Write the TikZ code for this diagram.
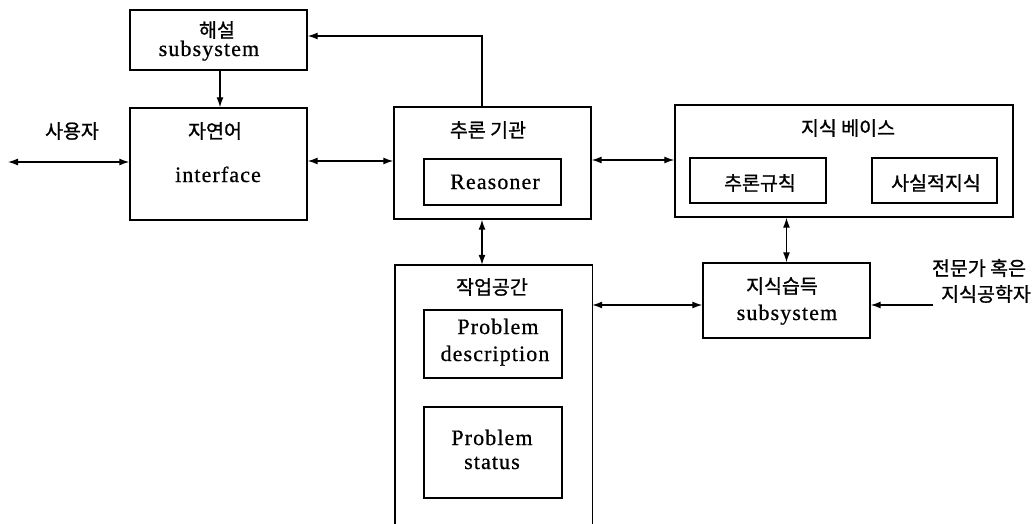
\documentclass[tikz,border=0pt]{standalone}
\usepackage{fontspec}
\setmainfont{Liberation Serif}[LetterSpace=5, FakeBold=0.6]
\newfontfamily\kr{Noto Sans CJK KR}[FakeBold=1]
\usetikzlibrary{arrows.meta,fit}
\tikzset{
  x=1pt, y=-1pt,
  box/.style={draw, line width=1.4pt, inner sep=0pt},
  kt/.style={font=\kr\fontsize{19.5}{22}\selectfont, inner sep=0pt, anchor=center},
  lt/.style={font=\fontsize{22}{24}\selectfont, inner sep=0pt, anchor=base},
  conn/.style={line width=1.3pt},
  tip/.style={-{Latex[length=10pt,width=7pt]}},
  dtip/.style={{Latex[length=10pt,width=7pt]}-{Latex[length=10pt,width=7pt]}},
}
\begin{document}
\begin{tikzpicture}
\useasboundingbox (0,0) rectangle (1035,524);
% boxes
\node[box, fit={(130,10) (307,70)}] (hs) {};
\node[box, fit={(130,108) (307,220)}] (ui) {};
\node[box, fit={(394,107) (591,219)}] (ie) {};
\node[box, fit={(424,159) (561,205)}] (rs) {};
\node[box, fit={(675,105) (1013,217)}] (kb) {};
\node[box, fit={(690,158) (826,203)}] (rule) {};
\node[box, fit={(872,158) (997,203)}] (fact) {};
\node[inner sep=0pt, fit={(395,265) (592,530)}] (ws) {};
\draw[line width=1.4pt] (ws.south west) -- (ws.north west) -- (ws.north east) -- (ws.south east);
\node[box, fit={(424,310) (562,378)}] (pd) {};
\node[box, fit={(424,407) (562,498)}] (pst) {};
\node[box, fit={(703,263) (870,338)}] (ka) {};
% texts
\node[kt] (t-hs) at (217,30) {해설};
\node[lt] (t-hs2) at (209,56) {subsystem};
\node[kt] (t-ui) at (215,131) {자연어};
\node[lt] (t-ui2) at (218,182) {interface};
\node[kt] (t-user) at (72,131) {사용자};
\node[kt] (t-ie) at (488,130) {추론 기관};
\node[lt] (t-rs) at (495,189) {Reasoner};
\node[kt] (t-kb) at (848,128) {지식 베이스};
\node[kt] (t-rule) at (760,183) {추론규칙};
\node[kt] (t-fact) at (936,183) {사실적지식};
\node[kt] (t-ws) at (492,287) {작업공간};
\node[lt] (t-pd1) at (498,334) {Problem};
\node[lt] (t-pd2) at (495,361) {description};
\node[lt] (t-ps1) at (492,445) {Problem};
\node[lt] (t-ps2) at (492,469) {status};
\node[kt] (t-ka) at (782,286) {지식습득};
\node[lt] (t-ka2) at (787,320) {subsystem};
\node[kt] (t-ex1) at (979,268) {전문가 혹은};
\node[kt] (t-ex2) at (986,294) {지식공학자};
% connector helpers
\coordinate (user) at (8,162);
\coordinate (top) at (482,36);
\coordinate (row1) at (0,161);
\coordinate (row2) at (0,160);
\coordinate (row3) at (0,305);
\coordinate (expert) at (933,305);
% connectors
\draw[conn, dtip] (user) -- (user -| ui.west);
\draw[conn, tip] (hs.south -| 220,0) -- (ui.north -| 220,0);
\draw[conn, dtip] (ui.east |- row1) -- (ie.west |- row1);
\draw[conn, tip] (ie.north -| top) -- (top) -- (top -| hs.east);
\draw[conn, dtip] (ie.east |- row2) -- (kb.west |- row2);
\draw[conn, dtip] (ie.south -| top) -- (ws.north -| top);
\draw[conn, dtip] (kb.south -| ka.north) -- (ka.north);
\draw[conn, dtip] (ws.east |- row3) -- (ka.west |- row3);
\draw[conn, tip] (expert) -- (ka.east |- expert);
\end{tikzpicture}
\end{document}
